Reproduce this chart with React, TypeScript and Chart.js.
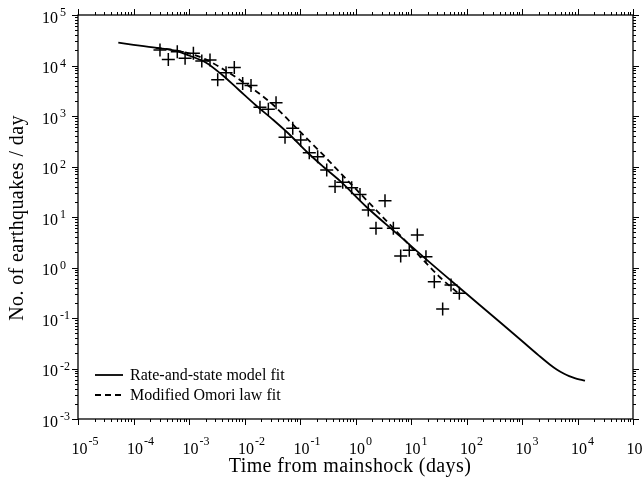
import React, { useEffect, useRef } from "react";
import { Chart, registerables } from "chart.js";

Chart.register(...registerables);

// Observed daily earthquake counts (time in days, count per day)
const obsTime = [
  3.0e-4, 4.24e-4, 6.15e-4, 8.5e-4, 1.2e-3, 1.7e-3, 2.39e-3, 3.29e-3, 4.65e-3, 6.55e-3,
  9.27e-3, 1.31e-2, 1.9e-2, 2.69e-2, 3.7e-2, 5.37e-2, 7.4e-2, 0.103, 0.147, 0.208,
  0.303, 0.428, 0.588, 0.853, 1.205, 1.7, 2.34, 3.4, 4.81, 6.52,
  9.31, 13.0, 18.6, 26.3, 37.2, 52.6, 74.3,
];
const obsRate = [
  20300, 13200, 18700, 13900, 17400, 12300, 12900, 5200, 7200, 9100,
  4400, 4000, 1490, 1360, 1840, 378, 570, 335, 188, 156,
  85, 40, 48.6, 38, 28, 13.8, 6.0, 21, 6.0, 1.69,
  2.2, 4.4, 1.64, 0.52, 0.15, 0.45, 0.31,
];

// Rate-and-state model fit
const rsTime = [
  5.32e-5, 1e-4, 3.0e-4, 6.3e-4, 1e-3, 2.0e-3, 3.98e-3, 7.94e-3, 1.58e-2, 3.31e-2,
  6.61e-2, 0.132, 0.263, 0.525, 1.58, 6.31, 25.1, 100, 398, 1000,
  1995, 3162, 4217, 5623, 7079, 8913, 11220, 13650,
];
const rsRate = [
  28300, 25700, 21900, 19100, 15800, 11500, 6490, 3270, 1650, 834,
  421, 196, 99, 51.9, 15.8, 4.17, 1.1, 0.302, 0.0832, 0.035,
  0.0182, 0.012, 0.00955, 0.00794, 0.00708, 0.00646, 0.00603, 0.00574,
];

// Modified Omori law fit
const omTime = [
  2.51e-4, 5.01e-4, 1e-3, 2.0e-3, 4.15e-3, 8.3e-3, 1.66e-2, 3.31e-2, 6.61e-2, 0.132,
  0.263, 0.525, 1.0, 3.16, 10, 31.6, 74.3,
];
const omRate = [
  22400, 20400, 17400, 13200, 8410, 5160, 3030, 1650, 773, 361,
  169, 75.9, 36.3, 9.77, 2.57, 0.676, 0.295,
];

const xExponents = [-5, -4, -3, -2, -1, 0, 1, 2, 3, 4, 5];
const yExponents = [-3, -2, -1, 0, 1, 2, 3, 4, 5];
const legendLabels = ["Rate-and-state model fit", "Modified Omori law fit"];
const xTitle = "Time from mainshock (days)";
const yTitle = "No. of earthquakes / day";

const FONT = "'Liberation Serif', 'Times New Roman', serif";

const axesPlugin = {
  id: "logAxesFrame",
  afterDraw(chart: any) {
    const ctx = chart.ctx as CanvasRenderingContext2D;
    const xs = chart.scales.x;
    const ys = chart.scales.y;
    const a = chart.chartArea;
    ctx.save();
    ctx.strokeStyle = "#000";
    ctx.fillStyle = "#000";
    // frame
    ctx.lineWidth = 1.3;
    ctx.strokeRect(a.left, a.top, a.right - a.left, a.bottom - a.top);

    const majorLen = 6;
    const minorLen = 3;
    ctx.lineWidth = 1;
    // x ticks (bottom + top, outward)
    for (let i = 0; i < xExponents.length; i++) {
      const e = xExponents[i];
      const mults = i < xExponents.length - 1 ? [1, 2, 3, 4, 5, 6, 7, 8, 9] : [1];
      for (const m of mults) {
        const px = Math.round(xs.getPixelForValue(m * Math.pow(10, e))) + 0.5;
        const len = m === 1 ? majorLen : minorLen;
        ctx.beginPath();
        ctx.moveTo(px, a.bottom);
        ctx.lineTo(px, a.bottom + len);
        ctx.moveTo(px, a.top);
        ctx.lineTo(px, a.top - len);
        ctx.stroke();
      }
    }
    // y ticks (left + right, outward)
    for (let i = 0; i < yExponents.length; i++) {
      const e = yExponents[i];
      const mults = i < yExponents.length - 1 ? [1, 2, 3, 4, 5, 6, 7, 8, 9] : [1];
      for (const m of mults) {
        const py = Math.round(ys.getPixelForValue(m * Math.pow(10, e))) + 0.5;
        const len = m === 1 ? majorLen : minorLen;
        ctx.beginPath();
        ctx.moveTo(a.left, py);
        ctx.lineTo(a.left - len, py);
        ctx.moveTo(a.right, py);
        ctx.lineTo(a.right + len, py);
        ctx.stroke();
      }
    }

    // x tick labels with superscripts
    for (const e of xExponents) {
      const px = xs.getPixelForValue(Math.pow(10, e));
      ctx.font = `16px ${FONT}`;
      ctx.textAlign = "center";
      ctx.textBaseline = "alphabetic";
      const baseW = ctx.measureText("10").width;
      const cx = px + 1.5;
      ctx.fillText("10", cx, a.bottom + 35);
      ctx.font = `12px ${FONT}`;
      ctx.textAlign = "left";
      ctx.fillText(String(e), cx + baseW / 2 + 1, a.bottom + 26);
    }
    // y tick labels with superscripts
    for (const e of yExponents) {
      const py = ys.getPixelForValue(Math.pow(10, e));
      ctx.font = `16px ${FONT}`;
      ctx.textAlign = "right";
      ctx.textBaseline = "alphabetic";
      ctx.fillText("10", a.left - 20, py + 7.5);
      ctx.font = `12px ${FONT}`;
      ctx.textAlign = "left";
      ctx.fillText(String(e), a.left - 18, py + 1);
    }

    // axis titles
    ctx.font = `20px ${FONT}`;
    (ctx as any).letterSpacing = "0.4px";
    ctx.textAlign = "center";
    ctx.textBaseline = "alphabetic";
    ctx.fillText(xTitle, 350, 472);
    ctx.save();
    ctx.translate(23, (a.top + a.bottom) / 2 + 1);
    ctx.rotate(-Math.PI / 2);
    ctx.fillText(yTitle, 0, 0);
    ctx.restore();
    (ctx as any).letterSpacing = "0px";

    // legend
    const lx0 = 95;
    const lx1 = 123;
    const rows = [375, 395];
    ctx.lineWidth = 1.8;
    for (let i = 0; i < 2; i++) {
      const ds = chart.data.datasets[i];
      ctx.setLineDash(ds.borderDash || []);
      ctx.beginPath();
      ctx.moveTo(lx0, rows[i]);
      ctx.lineTo(lx1, rows[i]);
      ctx.stroke();
      ctx.setLineDash([]);
      ctx.font = `16px ${FONT}`;
      ctx.textAlign = "left";
      ctx.textBaseline = "middle";
      ctx.fillText(legendLabels[i], 130, rows[i] + 1);
    }
    ctx.restore();
  },
};

export default function App() {
  const canvasRef = useRef<HTMLCanvasElement | null>(null);

  useEffect(() => {
    if (!canvasRef.current) return;
    const chart = new Chart(canvasRef.current, {
      type: "scatter",
      data: {
        datasets: [
          {
            label: legendLabels[0],
            data: rsTime.map((t, i) => ({ x: t, y: rsRate[i] })),
            showLine: true,
            borderColor: "#000",
            borderWidth: 1.8,
            pointRadius: 0,
            cubicInterpolationMode: "monotone",
            fill: false,
          } as any,
          {
            label: legendLabels[1],
            data: omTime.map((t, i) => ({ x: t, y: omRate[i] })),
            showLine: true,
            borderColor: "#000",
            borderWidth: 1.8,
            borderDash: [6, 4],
            pointRadius: 0,
            cubicInterpolationMode: "monotone",
            fill: false,
          } as any,
          {
            label: "Observed",
            data: obsTime.map((t, i) => ({ x: t, y: obsRate[i] })),
            showLine: false,
            pointStyle: "cross",
            pointRadius: 6.5,
            pointBorderWidth: 1.5,
            borderColor: "#000",
            backgroundColor: "#000",
            pointBorderColor: "#000",
          } as any,
        ],
      },
      options: {
        responsive: true,
        maintainAspectRatio: false,
        animation: false,
        layout: { padding: { left: 78, right: 11, top: 15, bottom: 59 } },
        scales: {
          x: { type: "logarithmic", min: 1e-5, max: 1e5, display: false },
          y: { type: "logarithmic", min: 1e-3, max: 1e5, display: false },
        },
        plugins: {
          legend: { display: false },
          tooltip: { enabled: false },
        },
      },
      plugins: [axesPlugin],
    });
    return () => chart.destroy();
  }, []);

  return (
    <div style={{ position: "absolute", left: 0, top: 0, width: 644, height: 478, background: "#fff" }}>
      <canvas ref={canvasRef} />
    </div>
  );
}
